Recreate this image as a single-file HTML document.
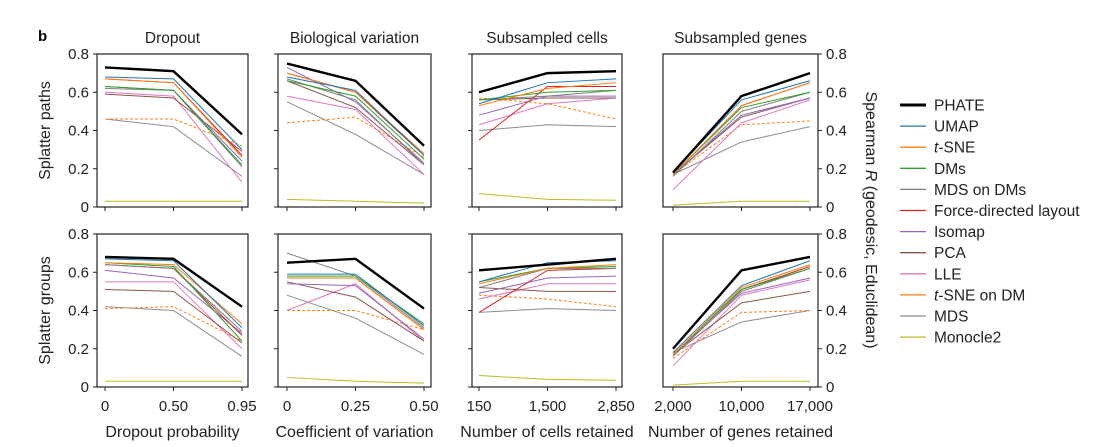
<!DOCTYPE html>
<html><head><meta charset="utf-8">
<style>
body{margin:0;background:#fff;}
svg{display:block;font-family:"Liberation Sans",sans-serif;}
</style></head>
<body>
<svg id="chart" width="1111" height="447"></svg>
<script>
const methods=["PHATE","UMAP","t-SNE","DMs","MDS on DMs","Force-directed layout","Isomap","PCA","LLE","t-SNE on DM","MDS","Monocle2"];
const colors=["#000000","#1f77b4","#ff7f0e","#2ca02c","#7f7f7f","#d62728","#9467bd","#8c564b","#e377c2","#ff7f0e","#8c8c8c","#bcbd22"];
const panelTitles=["Dropout","Biological variation","Subsampled cells","Subsampled genes"];
const xTickLabels=[["0","0.50","0.95"],["0","0.25","0.50"],["150","1,500","2,850"],["2,000","10,000","17,000"]];
const xTitles=["Dropout probability","Coefficient of variation","Number of cells retained","Number of genes retained"];
const yTicks=[0,0.2,0.4,0.6,0.8];
const rowTitles=["Splatter paths","Splatter groups"];
const pathsDropout=[[.73,.71,.38],[.68,.67,.30],[.67,.65,.26],[.63,.61,.22],[.62,.61,.21],[.67,.65,.27],[.63,.61,.24],[.59,.57,.29],[.60,.58,.13],[.46,.46,.32],[.46,.42,.16],[.03,.03,.03]];
const pathsBio=[[.75,.66,.32],[.68,.61,.27],[.70,.60,.28],[.66,.58,.25],[.67,.56,.22],[.70,.60,.27],[.73,.55,.23],[.66,.52,.22],[.58,.51,.17],[.44,.47,.26],[.55,.38,.17],[.04,.03,.02]];
const pathsCells=[[.60,.70,.71],[.54,.65,.67],[.53,.62,.65],[.56,.60,.61],[.56,.58,.61],[.35,.63,.63],[.48,.58,.58],[.56,.57,.57],[.43,.54,.57],[.57,.54,.46],[.40,.43,.42],[.07,.04,.035]];
const pathsGenes=[[.18,.58,.70],[.18,.56,.66],[.17,.53,.65],[.17,.52,.60],[.16,.50,.60],[.17,.53,.65],[.17,.48,.57],[.17,.47,.57],[.09,.44,.56],[.17,.43,.45],[.17,.34,.42],[.01,.03,.03]];
const groupsDropout=[[.68,.67,.42],[.67,.66,.31],[.65,.64,.33],[.65,.63,.24],[.64,.62,.29],[.64,.62,.27],[.61,.57,.28],[.51,.50,.23],[.55,.55,.20],[.41,.42,.24],[.42,.40,.16],[.03,.03,.03]];
const groupsBio=[[.65,.67,.41],[.59,.59,.32],[.57,.57,.30],[.58,.58,.33],[.70,.58,.31],[.57,.57,.30],[.54,.53,.25],[.55,.47,.24],[.40,.54,.24],[.40,.40,.30],[.48,.36,.17],[.05,.03,.02]];
const groupsCells=[[.61,.64,.67],[.55,.65,.66],[.54,.62,.64],[.55,.62,.63],[.52,.62,.62],[.39,.61,.62],[.49,.57,.58],[.52,.50,.50],[.46,.54,.54],[.48,.46,.42],[.39,.41,.40],[.06,.04,.035]];
const groupsGenes=[[.20,.61,.68],[.18,.53,.66],[.17,.52,.64],[.17,.51,.62],[.16,.50,.62],[.17,.51,.63],[.17,.49,.57],[.17,.44,.50],[.11,.48,.56],[.15,.39,.40],[.18,.34,.40],[.01,.03,.03]];
const grid=[[pathsDropout,pathsBio,pathsCells,pathsGenes],[groupsDropout,groupsBio,groupsCells,groupsGenes]];

const NS="http://www.w3.org/2000/svg";
const svg=document.getElementById("chart");
function mk(tag,attrs,parent){const e=document.createElementNS(NS,tag);for(const k in attrs)e.setAttribute(k,attrs[k]);(parent||svg).appendChild(e);return e;}
const panelsX=[[97,248,105,242],[278,431,287,424],[472,622,479,616],[663,818,673,810]];
const rowsY=[[54,207],[234,387]];
function yScale(r,v){const [t,b]=rowsY[r];return b-(v/0.8)*(b-t);}
function xScale(p,i){const [,,a,c]=panelsX[p];return a+i*(c-a)/2;}

const b=mk("text",{x:38,y:41,"font-size":15,"font-weight":"bold"});b.textContent="b";


for(let p=0;p<4;p++){
  const t=mk("text",{x:(panelsX[p][0]+panelsX[p][1])/2,y:43,"font-size":15.5,"text-anchor":"middle",fill:"#222"});t.textContent=panelTitles[p];
  
  const xt=mk("text",{x:(panelsX[p][0]+panelsX[p][1])/2,y:437,"font-size":16,"text-anchor":"middle",fill:"#222"});xt.textContent=xTitles[p];
  
}
for(let r=0;r<2;r++){
  const yt=mk("text",{transform:`translate(50,${(rowsY[r][0]+rowsY[r][1])/2}) rotate(-90)`,"font-size":16,"text-anchor":"middle",fill:"#222"});yt.textContent=rowTitles[r];
  
  for(let p=0;p<4;p++){
    const [l,rt]=panelsX[p];const [top,bot]=rowsY[r];
    const g=mk("g",{});
    
    mk("rect",{x:l,y:top,width:rt-l,height:bot-top,fill:"none",stroke:"#222","stroke-width":1.2},g);
    yTicks.forEach(v=>{const y=yScale(r,v);
      if(p<3) mk("line",{x1:l-4,x2:l,y1:y,y2:y,stroke:"#222"},g);
      else mk("line",{x1:rt,x2:rt+4,y1:y,y2:y,stroke:"#222"},g);
      if(p===0){const tx=mk("text",{x:l-8,y:y+5,"font-size":15,"text-anchor":"end",fill:"#222"},g);tx.textContent=v===0?"0":v.toFixed(1);
        }
      if(p===3){const tx=mk("text",{x:rt+8,y:y+5,"font-size":15,fill:"#222"},g);tx.textContent=v===0?"0":v.toFixed(1);
        }
    });
    for(let i=0;i<3;i++){const x=xScale(p,i);mk("line",{x1:x,x2:x,y1:bot,y2:bot+4,stroke:"#222"},g);
      if(r===1){const tx=mk("text",{x:x,y:411,"font-size":15,"text-anchor":"middle",fill:"#222"},g);tx.textContent=xTickLabels[p][i];
        }}
    const data=grid[r][p];
    for(let s=data.length-1;s>=0;s--){
      const pts=data[s].map((v,i)=>xScale(p,i)+","+yScale(r,v)).join(" ");
      const pl=mk("polyline",{points:pts,fill:"none",stroke:colors[s],"stroke-width":s===0?2.4:1,"stroke-dasharray":s===9?"3,2":"none"},g);
      
    }
  }
}
const ra=mk("text",{transform:"translate(866,220) rotate(90)","font-size":16,"text-anchor":"middle",fill:"#222"});
ra.innerHTML='Spearman <tspan font-style="italic">R</tspan> (geodesic, Educlidean)';


methods.forEach((m,i)=>{
  const y=105+i*21.1;
  const g=mk("g",{});
  
  mk("line",{x1:900,x2:926,y1:y,y2:y,stroke:colors[i],"stroke-width":i===0?3:1.3},g);
  const t=mk("text",{x:934,y:y+5.5,"font-size":15.5,fill:"#222"},g);
  if(m.startsWith("t-")) t.innerHTML='<tspan font-style="italic">t</tspan>'+m.slice(1); else t.textContent=m;
});
</script>
</body></html>
